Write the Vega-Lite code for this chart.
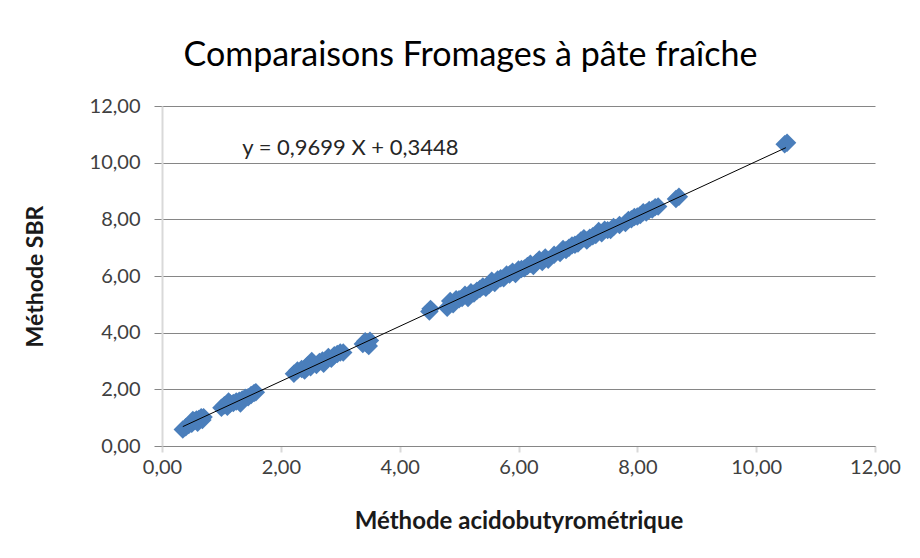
{
  "$schema": "https://vega.github.io/schema/vega-lite/v6.json",
  "width": 713,
  "height": 340,
  "autosize": {"type": "none"},
  "padding": {"left": 162, "top": 106, "right": 45, "bottom": 112},
  "background": "white",
  "config": {
    "font": "Lato",
    "view": {"stroke": null},
    "axis": {"labelFont": "Lato", "titleFont": "Lato"}
  },
  "title": {
    "text": "Comparaisons Fromages à pâte fraîche",
    "font": "Lato",
    "fontSize": 34,
    "fontWeight": "normal",
    "color": "#000000",
    "anchor": "middle",
    "dx": -48,
    "offset": 23
  },
  "datasets": {
    "points": [
      {"x": 0.35, "y": 0.58}, {"x": 0.40, "y": 0.66}, {"x": 0.45, "y": 0.74}, {"x": 0.50, "y": 0.78},
      {"x": 0.55, "y": 0.88}, {"x": 0.58, "y": 0.94}, {"x": 0.62, "y": 0.95}, {"x": 0.66, "y": 1.02},
      {"x": 0.70, "y": 1.02}, {"x": 0.52, "y": 0.92}, {"x": 0.60, "y": 0.82}, {"x": 0.68, "y": 0.92},
      {"x": 1.00, "y": 1.35}, {"x": 1.05, "y": 1.44}, {"x": 1.10, "y": 1.38}, {"x": 1.15, "y": 1.50},
      {"x": 1.20, "y": 1.52}, {"x": 1.25, "y": 1.57}, {"x": 1.30, "y": 1.60}, {"x": 1.35, "y": 1.64},
      {"x": 1.40, "y": 1.70}, {"x": 1.45, "y": 1.72}, {"x": 1.50, "y": 1.80}, {"x": 1.55, "y": 1.87},
      {"x": 1.58, "y": 1.90}, {"x": 1.12, "y": 1.57}, {"x": 1.32, "y": 1.50},
      {"x": 2.22, "y": 2.55}, {"x": 2.28, "y": 2.67}, {"x": 2.35, "y": 2.72}, {"x": 2.40, "y": 2.66},
      {"x": 2.45, "y": 2.84}, {"x": 2.50, "y": 2.78}, {"x": 2.55, "y": 2.92}, {"x": 2.60, "y": 2.86},
      {"x": 2.65, "y": 2.97}, {"x": 2.70, "y": 3.02}, {"x": 2.75, "y": 3.03}, {"x": 2.80, "y": 3.14},
      {"x": 2.85, "y": 3.08}, {"x": 2.90, "y": 3.20}, {"x": 2.95, "y": 3.25}, {"x": 3.00, "y": 3.30},
      {"x": 3.05, "y": 3.30}, {"x": 2.52, "y": 3.00}, {"x": 2.72, "y": 2.90},
      {"x": 3.38, "y": 3.60}, {"x": 3.42, "y": 3.70}, {"x": 3.45, "y": 3.60}, {"x": 3.50, "y": 3.72},
      {"x": 3.48, "y": 3.53},
      {"x": 4.50, "y": 4.75}, {"x": 4.52, "y": 4.84},
      {"x": 4.80, "y": 4.88}, {"x": 4.85, "y": 5.12}, {"x": 4.90, "y": 5.00}, {"x": 4.95, "y": 5.18},
      {"x": 5.00, "y": 5.18}, {"x": 5.05, "y": 5.22}, {"x": 5.10, "y": 5.34}, {"x": 5.15, "y": 5.22},
      {"x": 5.20, "y": 5.43}, {"x": 5.25, "y": 5.38}, {"x": 5.30, "y": 5.48}, {"x": 5.35, "y": 5.54},
      {"x": 5.40, "y": 5.63}, {"x": 5.45, "y": 5.58}, {"x": 5.50, "y": 5.68}, {"x": 5.55, "y": 5.83},
      {"x": 5.60, "y": 5.75}, {"x": 5.65, "y": 5.88}, {"x": 5.70, "y": 5.92}, {"x": 5.75, "y": 5.92},
      {"x": 5.80, "y": 6.05}, {"x": 5.85, "y": 6.05}, {"x": 5.90, "y": 6.15}, {"x": 5.95, "y": 6.07},
      {"x": 6.00, "y": 6.23}, {"x": 6.05, "y": 6.25}, {"x": 6.10, "y": 6.27}, {"x": 6.15, "y": 6.35},
      {"x": 6.20, "y": 6.43}, {"x": 6.25, "y": 6.35}, {"x": 6.30, "y": 6.48}, {"x": 6.35, "y": 6.58},
      {"x": 6.40, "y": 6.49}, {"x": 6.45, "y": 6.65}, {"x": 6.50, "y": 6.57}, {"x": 6.60, "y": 6.75},
      {"x": 6.70, "y": 6.81}, {"x": 6.75, "y": 6.95}, {"x": 6.80, "y": 6.92}, {"x": 6.85, "y": 7.00},
      {"x": 6.90, "y": 7.08}, {"x": 6.95, "y": 7.10}, {"x": 7.00, "y": 7.15}, {"x": 7.05, "y": 7.25},
      {"x": 7.10, "y": 7.33}, {"x": 7.15, "y": 7.25}, {"x": 7.20, "y": 7.35}, {"x": 7.25, "y": 7.40},
      {"x": 7.30, "y": 7.45}, {"x": 7.35, "y": 7.59}, {"x": 7.40, "y": 7.51}, {"x": 7.45, "y": 7.63},
      {"x": 7.50, "y": 7.62}, {"x": 7.55, "y": 7.62}, {"x": 7.60, "y": 7.73}, {"x": 7.70, "y": 7.80},
      {"x": 7.80, "y": 7.87}, {"x": 7.85, "y": 7.98}, {"x": 7.90, "y": 8.00}, {"x": 7.95, "y": 8.08},
      {"x": 8.00, "y": 8.10}, {"x": 8.05, "y": 8.15}, {"x": 8.10, "y": 8.25}, {"x": 8.15, "y": 8.24},
      {"x": 8.20, "y": 8.33}, {"x": 8.25, "y": 8.35}, {"x": 8.30, "y": 8.43}, {"x": 8.35, "y": 8.45},
      {"x": 8.65, "y": 8.72}, {"x": 8.70, "y": 8.80},
      {"x": 10.48, "y": 10.65}, {"x": 10.52, "y": 10.70}
    ],
    "trend": [
      {"x": 0.35, "y": 0.6843},
      {"x": 10.50, "y": 10.5288}
    ],
    "label": [
      {"x": 1.35, "y": 10.52, "text": "y = 0,9699 X + 0,3448"}
    ]
  },
  "layer": [
    {
      "data": {"name": "points"},
      "mark": {"type": "point", "shape": "diamond", "filled": true, "size": 340, "color": "#4A7EBB", "opacity": 1, "strokeWidth": 0},
      "encoding": {
        "x": {
          "field": "x", "type": "quantitative",
          "scale": {"domain": [0, 12], "nice": false, "zero": true},
          "axis": {
            "title": "Méthode acidobutyrométrique",
            "values": [0, 2, 4, 6, 8, 10, 12],
            "format": ".2f",
            "labelExpr": "replace(datum.label, '.', ',')",
            "grid": false,
            "domain": true,
            "domainColor": "#868686",
            "domainWidth": 1,
            "ticks": true,
            "tickColor": "#d9d9d9",
            "tickWidth": 2,
            "tickSize": 6,
            "labelFontSize": 20,
            "labelColor": "#404040",
            "labelPadding": 5,
            "labelFlush": false,
            "titleFontSize": 24,
            "titleFontWeight": "bold",
            "titleColor": "#1a1a1a",
            "titlePadding": 32
          }
        },
        "y": {
          "field": "y", "type": "quantitative",
          "scale": {"domain": [0, 12], "nice": false, "zero": true},
          "axis": {
            "title": "Méthode SBR",
            "values": [0, 2, 4, 6, 8, 10, 12],
            "format": ".2f",
            "labelExpr": "replace(datum.label, '.', ',')",
            "grid": true,
            "gridColor": "#868686",
            "gridWidth": 1,
            "domain": true,
            "domainColor": "#d9d9d9",
            "domainWidth": 2,
            "ticks": true,
            "tickColor": "#868686",
            "tickSize": 8,
            "labelFontSize": 20,
            "labelColor": "#404040",
            "labelPadding": 14,
            "labelFlush": false,
            "titleFontSize": 23,
            "titleFontWeight": "bold",
            "titleColor": "#1a1a1a",
            "titlePadding": 42
          }
        }
      }
    },
    {
      "data": {"name": "trend"},
      "mark": {"type": "line", "color": "#000000", "strokeWidth": 1},
      "encoding": {
        "x": {"field": "x", "type": "quantitative"},
        "y": {"field": "y", "type": "quantitative"}
      }
    },
    {
      "data": {"name": "label"},
      "mark": {"type": "text", "align": "left", "baseline": "middle", "fontSize": 22, "font": "Lato", "color": "#262626"},
      "encoding": {
        "x": {"field": "x", "type": "quantitative"},
        "y": {"field": "y", "type": "quantitative"},
        "text": {"field": "text"}
      }
    }
  ]
}
